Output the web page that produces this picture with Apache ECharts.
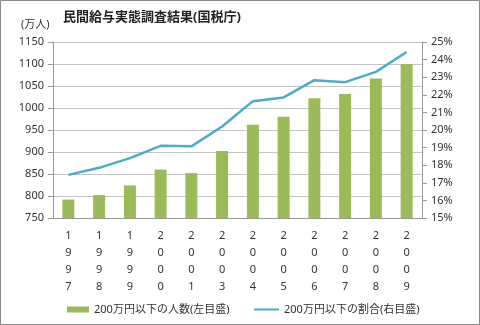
<!DOCTYPE html>
<html>
<head>
<meta charset="utf-8">
<script src="https://cdn.jsdelivr.net/npm/echarts@6/dist/echarts.min.js"></script>
<style>html,body{margin:0;padding:0;background:#fff}#c{width:480px;height:325px}</style>
</head>
<body>
<div id="c"></div>
<script>
var years = ['1997','1998','1999','2000','2001','2003','2004','2005','2006','2007','2008','2009'];
var counts = [792, 802, 824, 860, 852, 902, 962, 980, 1022, 1032, 1067, 1100];
var ratio = [17.45, 17.85, 18.4, 19.1, 19.07, 20.2, 21.64, 21.85, 22.83, 22.72, 23.3, 24.43];
var barName = '200万円以下の人数(左目盛)';
var lineName = '200万円以下の割合(右目盛)';
var titleText = '民間給与実態調査結果(国税庁)';
var unitText = '(万人)';

var FONT = '"Noto Sans", "Noto Sans CJK JP", sans-serif';
var chart = echarts.init(document.getElementById('c'), null, {renderer: 'canvas'});
chart.setOption({
  animation: false,
  textStyle: {fontFamily: FONT, color: '#333'},
  graphic: [
    {type: 'rect', shape: {x: 0.5, y: 0.5, width: 479, height: 324}, style: {fill: 'none', stroke: '#888', lineWidth: 1}, z: 100},
    {type: 'text', left: 63, top: 11, style: {text: titleText, font: 'bold 13px ' + FONT, fill: '#222'}},
    {type: 'text', left: 21, top: 19, style: {text: unitText, font: '11px ' + FONT, fill: '#333'}}
  ],
  grid: {left: 53, right: 58, top: 42, bottom: 107},
  legend: [
    {top: 299, left: 62, itemWidth: 22, itemHeight: 6,
      textStyle: {fontSize: 11, color: '#333', fontFamily: FONT},
      data: [{name: barName, icon: 'rect'}]},
    {top: 299, left: 249, itemWidth: 25, itemHeight: 2,
      textStyle: {fontSize: 11, color: '#333', fontFamily: FONT},
      data: [{name: lineName, icon: 'rect'}]}
  ],
  xAxis: {
    type: 'category', data: years,
    axisLine: {lineStyle: {color: '#999'}},
    axisTick: {length: 4, lineStyle: {color: '#999'}},
    axisLabel: {fontSize: 11, color: '#333', lineHeight: 17, margin: 9,
      formatter: function (v) { return v.split('').join('\n'); }}
  },
  yAxis: [
    {type: 'value', min: 750, max: 1150, interval: 50,
      axisLine: {show: true, lineStyle: {color: '#999'}},
      axisTick: {show: true, length: 5, lineStyle: {color: '#999'}},
      axisLabel: {fontSize: 11, color: '#333', margin: 9, formatter: function (v) { return String(v); }},
      splitLine: {lineStyle: {color: '#c4c4c4'}}},
    {type: 'value', min: 15, max: 25, interval: 1, position: 'right',
      axisLine: {show: true, lineStyle: {color: '#999'}},
      axisTick: {show: true, length: 5, lineStyle: {color: '#999'}},
      axisLabel: {fontSize: 11, color: '#333', margin: 9, formatter: '{value}%'},
      splitLine: {show: false}}
  ],
  series: [
    {name: barName, type: 'bar', data: counts, yAxisIndex: 0, barWidth: 12,
      itemStyle: {color: '#9bbb59'}},
    {name: lineName, type: 'line', data: ratio, yAxisIndex: 1, symbol: 'none',
      lineStyle: {color: '#4bacc6', width: 2.5}, itemStyle: {color: '#4bacc6'}}
  ]
});
</script>
</body>
</html>
